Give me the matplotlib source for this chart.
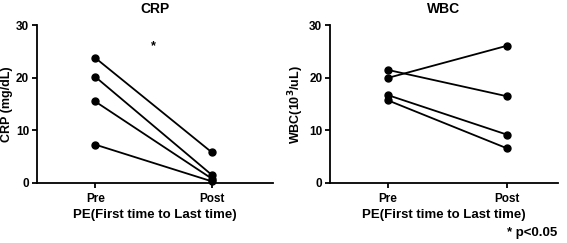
import matplotlib
matplotlib.use("Agg")
import matplotlib.pyplot as plt

plt.rcParams['font.family'] = ['Liberation Sans', 'DejaVu Sans']
plt.rcParams['font.weight'] = 'bold'

groups = ["Pre", "Post"]

crp_pre = [23.8, 20.2, 15.5, 7.3]
crp_post = [5.8, 1.5, 0.8, 0.3]

wbc_pre = [20.0, 21.5, 16.7, 15.7]
wbc_post = [26.1, 16.5, 9.2, 6.6]


def paired_panel(ax, pre, post, title, ylabel, xlim):
    for a, b in zip(pre, post):
        ax.plot([0, 1], [a, b], color='black', lw=1.3, marker='o', ms=5, clip_on=False)
    ax.set_xlim(*xlim)
    ax.set_ylim(0, 30)
    ax.set_yticks([0, 10, 20, 30])
    ax.set_xticks([0, 1])
    ax.set_xticklabels(groups)
    ax.set_title(title, fontsize=10, fontweight='bold', pad=9)
    ax.set_ylabel(ylabel, fontsize=9, fontweight='bold', labelpad=2)
    ax.set_xlabel("PE(First time to Last time)", fontsize=9.5, fontweight='bold', labelpad=2.5)
    ax.spines['top'].set_visible(False)
    ax.spines['right'].set_visible(False)
    ax.spines['left'].set_linewidth(1.3)
    ax.spines['bottom'].set_linewidth(1.3)
    ax.tick_params(labelsize=8.5, width=1.3, length=3.5, pad=2)
    ax.tick_params(axis='x', pad=4)
    for lab in ax.get_xticklabels() + ax.get_yticklabels():
        lab.set_fontweight('bold')


fig = plt.figure(figsize=(5.67, 2.43), dpi=100)
ax1 = fig.add_axes([0.065, 0.247, 0.416, 0.649])
ax2 = fig.add_axes([0.582, 0.247, 0.402, 0.649])

paired_panel(ax1, crp_pre, crp_post, "CRP", "CRP (mg/dL)", (-0.5, 1.52))
ax1.text(0.5, 26, "*", ha='center', va='center', fontsize=9, fontweight='bold')

paired_panel(ax2, wbc_pre, wbc_post, "WBC", r"WBC(10$^\mathbf{3}$/uL)", (-0.49, 1.43))

fig.text(0.938, 0.04, "* p<0.05", ha='center', va='center', fontsize=9.5, fontweight='bold')

fig.savefig("out.png", dpi=100)
